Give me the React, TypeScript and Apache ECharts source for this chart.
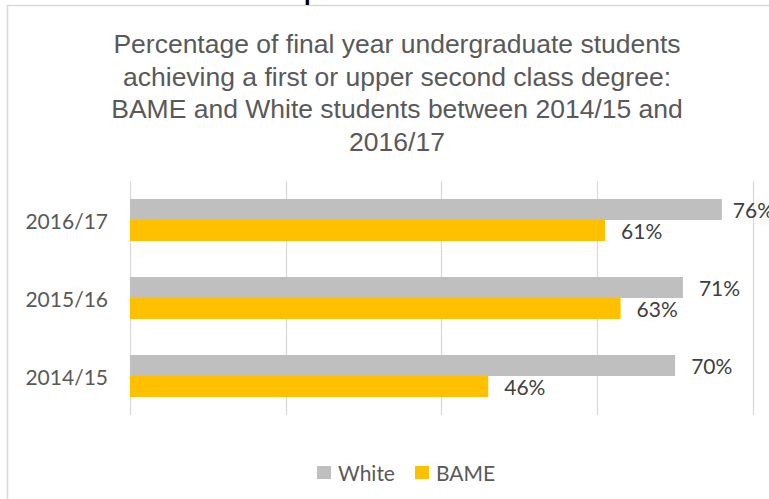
import React, { useEffect, useRef } from "react";
import * as echarts from "echarts";

const categories = ["2014/15", "2015/16", "2016/17"];
const whiteValues = [70, 71, 76];
const bameValues = [46, 63, 61];
const xTicks = [0, 20, 40, 60, 80];
const titleText =
  "Percentage of final year undergraduate students\nachieving a first or upper second class degree:\nBAME and White students between 2014/15 and\n2016/17";

export default function App() {
  const ref = useRef<HTMLDivElement>(null);
  useEffect(() => {
    if (!ref.current) return;
    const chart = echarts.init(ref.current, null, { renderer: "svg" });
    const labelFont = "Lato, 'Noto Sans', sans-serif";
    const maxVal = xTicks[xTicks.length - 1];
    const mkData = (vals: number[]) =>
      vals.map((v) =>
        v >= 75 ? { value: v, label: { distance: 11 } } : { value: v }
      );
    const barLabel = {
      show: true,
      position: "right",
      distance: 16,
      formatter: "{c}%",
      fontFamily: labelFont,
      fontSize: 21,
      color: "#404040",
    };
    chart.setOption({
      animation: false,
      backgroundColor: "#ffffff",
      graphic: [
        {
          type: "rect",
          shape: { x: 7.5, y: 5.5, width: 800, height: 600 },
          style: { fill: "none", stroke: "#d9d9d9", lineWidth: 1.5 },
          silent: true,
        },
        {
          type: "text",
          x: 304,
          y: -9,
          style: {
            text: "p",
            fontSize: 24,
            fontWeight: "bold",
            fontFamily: "'Liberation Sans', Arial, sans-serif",
            fill: "#000000",
            align: "left",
            verticalAlign: "middle",
          },
        },
        {
          type: "text",
          x: 397,
          y: 28,
          style: {
            text: titleText,
            fontSize: 26.5,
            lineHeight: 32.5,
            fontFamily: "'Liberation Sans', Arial, sans-serif",
            fill: "#595959",
            align: "center",
            verticalAlign: "top",
          },
        },
      ],
      legend: {
        data: ["White", "BAME"],
        left: 312,
        top: 457,
        icon: "rect",
        itemWidth: 14,
        itemHeight: 13,
        itemGap: 20,
        textStyle: {
          fontFamily: labelFont,
          fontSize: 21,
          lineHeight: 21,
          color: "#595959",
          padding: [0, 0, 0, 2],
        },
      },
      grid: { left: 130, width: 623, top: 181, height: 234 },
      xAxis: {
        type: "value",
        min: 0,
        max: maxVal,
        interval: 20,
        axisLabel: { show: false },
        axisLine: { show: false },
        axisTick: { show: false },
        splitLine: { show: true, lineStyle: { color: "#d9d9d9", width: 1.3 } },
      },
      yAxis: {
        type: "category",
        data: categories,
        axisLine: { show: false },
        axisTick: { show: false },
        axisLabel: {
          margin: 22,
          fontFamily: labelFont,
          fontSize: 21,
          color: "#595959",
        },
      },
      series: [
        {
          name: "White",
          type: "bar",
          data: mkData(whiteValues),
          barWidth: 21,
          barGap: "0%",
          itemStyle: { color: "#bfbfbf" },
          label: barLabel,
        },
        {
          name: "BAME",
          type: "bar",
          data: mkData(bameValues),
          barWidth: 21,
          barGap: "0%",
          itemStyle: { color: "#ffc000" },
          label: barLabel,
        },
      ],
    });
    return () => chart.dispose();
  }, []);
  return (
    <div
      ref={ref}
      style={{ position: "absolute", left: 0, top: 0, width: 769, height: 499 }}
    />
  );
}
